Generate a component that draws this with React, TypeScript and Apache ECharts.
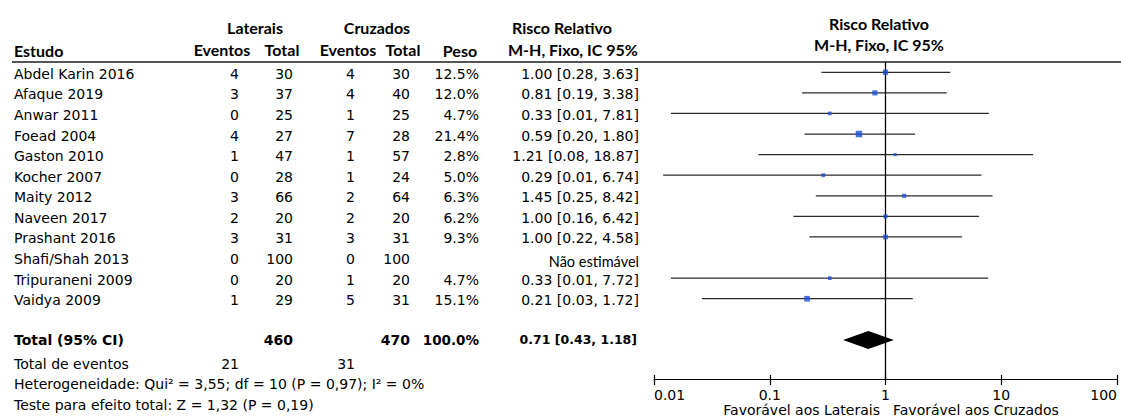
import React, { useEffect, useRef } from "react";
import * as echarts from "echarts";

// ---------- data ----------
const studies = [
  "Abdel Karin 2016",
  "Afaque 2019",
  "Anwar 2011",
  "Foead 2004",
  "Gaston 2010",
  "Kocher 2007",
  "Maity 2012",
  "Naveen 2017",
  "Prashant 2016",
  "Shafi/Shah 2013",
  "Tripuraneni 2009",
  "Vaidya 2009",
];
const latEvents = [4, 3, 0, 4, 1, 0, 3, 2, 3, 0, 0, 1];
const latTotal = [30, 37, 25, 27, 47, 28, 66, 20, 31, 100, 20, 29];
const cruEvents = [4, 4, 1, 7, 1, 1, 2, 2, 3, 0, 1, 5];
const cruTotal = [30, 40, 25, 28, 57, 24, 64, 20, 31, 100, 20, 31];
const weights: (number | null)[] = [12.5, 12.0, 4.7, 21.4, 2.8, 5.0, 6.3, 6.2, 9.3, null, 4.7, 15.1];
const rr: (number | null)[] = [1.0, 0.81, 0.33, 0.59, 1.21, 0.29, 1.45, 1.0, 1.0, null, 0.33, 0.21];
const ciLow: (number | null)[] = [0.28, 0.19, 0.014, 0.2, 0.08, 0.012, 0.25, 0.16, 0.22, null, 0.014, 0.026];
const ciHigh: (number | null)[] = [3.63, 3.38, 7.81, 1.8, 18.87, 6.74, 8.42, 6.42, 4.58, null, 7.72, 1.72];
const totalRR = 0.71;
const totalLow = 0.43;
const totalHigh = 1.18;
const tickLabels = ["0.01", "0.1", "1", "10", "100"];
const heterogeneityText = "Heterogeneidade: Qui² = 3,55; df = 10 (P = 0,97); I² = 0%";
const overallText = "Teste para efeito total: Z = 1,32 (P = 0,19)";

// ---------- layout ----------
const W = 1121;
const H = 417;
const GRID_LEFT = 654;
const GRID_RIGHT_X = 1117;
const GRID_TOP = 62;
const AXIS_Y = 379;
const Y_MIN = -0.5;
const Y_MAX = 14.9;
const TOTAL_ROW = 13;
const rowY = (i: number) => GRID_TOP + ((i - Y_MIN) * (AXIS_Y - GRID_TOP)) / (Y_MAX - Y_MIN);

const BODY = "DejaVu Sans";
const HEAD = "Lato";
const HS = 16;
const COL = { study: 14, latEv: 239, latTot: 293, cruEv: 355, cruTot: 410, peso: 479, rr: 639 };

const sum = (a: number[]) => a.reduce((s, v) => s + v, 0);

function txt(text: string, x: number, y: number, opts: any = {}) {
  const align = opts.align || "left";
  return {
    type: "text",
    silent: true,
    style: {
      text,
      x,
      y,
      fill: "#000",
      fontFamily: opts.family || BODY,
      fontSize: opts.size || 14,
      fontWeight: opts.weight || "normal",
      align,
      textAlign: align,
      verticalAlign: "middle",
      textVerticalAlign: "middle",
    },
  };
}

function buildGraphics() {
  const g: any[] = [];
  const hd = (t: string, x: number, y: number, align = "left") =>
    txt(t, x, y, { family: HEAD, weight: "bold", size: HS, align });
  // header
  g.push(hd("Laterais", 255, 27, "center"));
  g.push(hd("Cruzados", 377, 27, "center"));
  g.push(hd("Risco Relativo", 512, 27));
  g.push(hd("Estudo", 14, 50));
  g.push(hd("Eventos", 222, 49, "center"));
  g.push(hd("Total", 282, 49, "center"));
  g.push(hd("Eventos", 348, 49, "center"));
  g.push(hd("Total", 403, 49, "center"));
  g.push(hd("Peso", 460, 50, "center"));
  g.push(hd("M-H, Fixo, IC 95%", 508, 49));
  g.push(hd("Risco Relativo", 879, 23, "center"));
  g.push(hd("M-H, Fixo, IC 95%", 879, 44, "center"));
  g.push({
    type: "line",
    silent: true,
    shape: { x1: 12, y1: GRID_TOP, x2: W, y2: GRID_TOP },
    style: { stroke: "#555", lineWidth: 2 },
  });

  // rows
  studies.forEach((s, i) => {
    const y = rowY(i) + 1.5;
    g.push(txt(s, COL.study, y));
    g.push(txt(String(latEvents[i]), COL.latEv, y, { align: "right" }));
    g.push(txt(String(latTotal[i]), COL.latTot, y, { align: "right" }));
    g.push(txt(String(cruEvents[i]), COL.cruEv, y, { align: "right" }));
    g.push(txt(String(cruTotal[i]), COL.cruTot, y, { align: "right" }));
    const w = weights[i];
    if (w != null) g.push(txt(w.toFixed(1) + "%", COL.peso, y, { align: "right" }));
    const r = rr[i];
    if (r != null) {
      g.push(
        txt(
          `${r.toFixed(2)} [${(ciLow[i] as number).toFixed(2)}, ${(ciHigh[i] as number).toFixed(2)}]`,
          COL.rr,
          y,
          { align: "right" }
        )
      );
    } else {
      g.push(txt("Não estimável", COL.rr, y + 2, { family: HEAD, size: 14.5, align: "right" }));
    }
  });

  // total row
  const ty = rowY(TOTAL_ROW);
  const wSum = sum(weights.filter((v) => v != null) as number[]);
  g.push(txt("Total (95% CI)", COL.study, ty, { weight: "bold" }));
  g.push(txt(String(sum(latTotal)), COL.latTot, ty, { weight: "bold", size: 14, align: "right" }));
  g.push(txt(String(sum(cruTotal)), COL.cruTot, ty, { weight: "bold", size: 14, align: "right" }));
  g.push(txt(wSum.toFixed(1) + "%", COL.peso, ty, { weight: "bold", size: 13.5, align: "right" }));
  g.push(
    txt(`${totalRR.toFixed(2)} [${totalLow.toFixed(2)}, ${totalHigh.toFixed(2)}]`, COL.rr - 2, ty, {
      weight: "bold",
      size: 12.5,
      align: "right",
    })
  );

  // footer texts
  g.push(txt("Total de eventos", COL.study, 364));
  g.push(txt(String(sum(latEvents)), COL.latEv, 364, { align: "right" }));
  g.push(txt(String(sum(cruEvents)), COL.cruEv, 364, { align: "right" }));
  g.push(txt(heterogeneityText, COL.study, 384));
  g.push(txt(overallText, COL.study, 405));

  g.push(txt("Favorável aos Laterais", 880, 410, { size: 14, align: "right" }));
  g.push(txt("Favorável aos Cruzados", 893, 410, { size: 14 }));
  return g;
}

export default function App() {
  const ref = useRef<HTMLDivElement>(null);
  useEffect(() => {
    if (!ref.current) return;
    const chart = echarts.init(ref.current, null, { renderer: "svg" });

    const ciData = studies
      .map((_, i) => (rr[i] != null ? [ciLow[i], ciHigh[i], i] : null))
      .filter((d) => d != null);
    const pointData = studies
      .map((_, i) => (rr[i] != null ? [rr[i], i, weights[i]] : null))
      .filter((d) => d != null);

    const xAxisBase = {
      type: "log",
      logBase: 10,
      min: 0.01,
      max: 100,
      gridIndex: 0,
      position: "bottom",
      splitLine: { show: false },
      minorTick: { show: false },
    };

    chart.setOption({
      animation: false,
      backgroundColor: "#fff",
      grid: {
        left: GRID_LEFT,
        right: W - GRID_RIGHT_X,
        top: GRID_TOP,
        bottom: H - AXIS_Y,
        containLabel: false,
      },
      xAxis: [
        {
          ...xAxisBase,
          axisLine: { show: true, onZero: false, lineStyle: { color: "#000", width: 1.2 } },
          axisTick: { show: true, length: 6, lineStyle: { color: "#000", width: 1.2 } },
          axisLabel: {
            show: true,
            color: "#000",
            fontFamily: BODY,
            fontSize: 14,
            margin: 9,
            alignMinLabel: "left",
            alignMaxLabel: "right",
            formatter: (v: number) => tickLabels[Math.round(Math.log10(v)) + 2] ?? "",
          },
        },
        {
          ...xAxisBase,
          axisLine: { show: false, onZero: false },
          axisTick: { show: true, inside: true, length: 4, lineStyle: { color: "#000", width: 1.2 } },
          axisLabel: { show: false },
        },
      ],
      yAxis: {
        type: "value",
        min: Y_MIN,
        max: Y_MAX,
        inverse: true,
        show: false,
      },
      graphic: buildGraphics(),
      series: [
        {
          type: "custom",
          name: "noeffect",
          xAxisIndex: 0,
          silent: true,
          data: [[1]],
          encode: { x: 0 },
          renderItem: (_p: any, api: any) => {
            const a = api.coord([1, Y_MIN]);
            const b = api.coord([1, Y_MAX]);
            return {
              type: "line",
              shape: { x1: a[0], y1: a[1], x2: b[0], y2: b[1] },
              style: { stroke: "#000", lineWidth: 1.3 },
            };
          },
        },
        {
          type: "custom",
          name: "ci",
          xAxisIndex: 0,
          silent: true,
          data: ciData,
          encode: { x: [0, 1], y: 2 },
          renderItem: (_p: any, api: any) => {
            const a = api.coord([api.value(0), api.value(2)]);
            const b = api.coord([api.value(1), api.value(2)]);
            return {
              type: "line",
              shape: { x1: a[0], y1: a[1], x2: b[0], y2: b[1] },
              style: { stroke: "#2a2a2a", lineWidth: 1.3 },
            };
          },
        },
        {
          type: "scatter",
          name: "rr",
          xAxisIndex: 0,
          silent: true,
          symbol: "rect",
          symbolSize: (v: number[]) => 1.2 + 1.15 * Math.sqrt(v[2]),
          itemStyle: { color: "#1d4fd3" },
          data: pointData,
          z: 5,
        },
        {
          type: "custom",
          name: "total",
          xAxisIndex: 0,
          silent: true,
          data: [[totalRR, totalLow, totalHigh, TOTAL_ROW]],
          encode: { x: [0, 1, 2], y: 3 },
          renderItem: (_p: any, api: any) => {
            const row = api.value(3);
            const l = api.coord([api.value(1), row]);
            const r = api.coord([api.value(2), row]);
            const c = api.coord([api.value(0), row]);
            const hh = 9;
            return {
              type: "polygon",
              shape: {
                points: [
                  [l[0], c[1]],
                  [c[0], c[1] - hh],
                  [r[0], c[1]],
                  [c[0], c[1] + hh],
                ],
              },
              style: { fill: "#000" },
            };
          },
        },
      ],
    });
    return () => chart.dispose();
  }, []);
  return (
    <div
      ref={ref}
      style={{ position: "fixed", left: 0, top: 0, width: W, height: H, background: "#fff" }}
    />
  );
}
